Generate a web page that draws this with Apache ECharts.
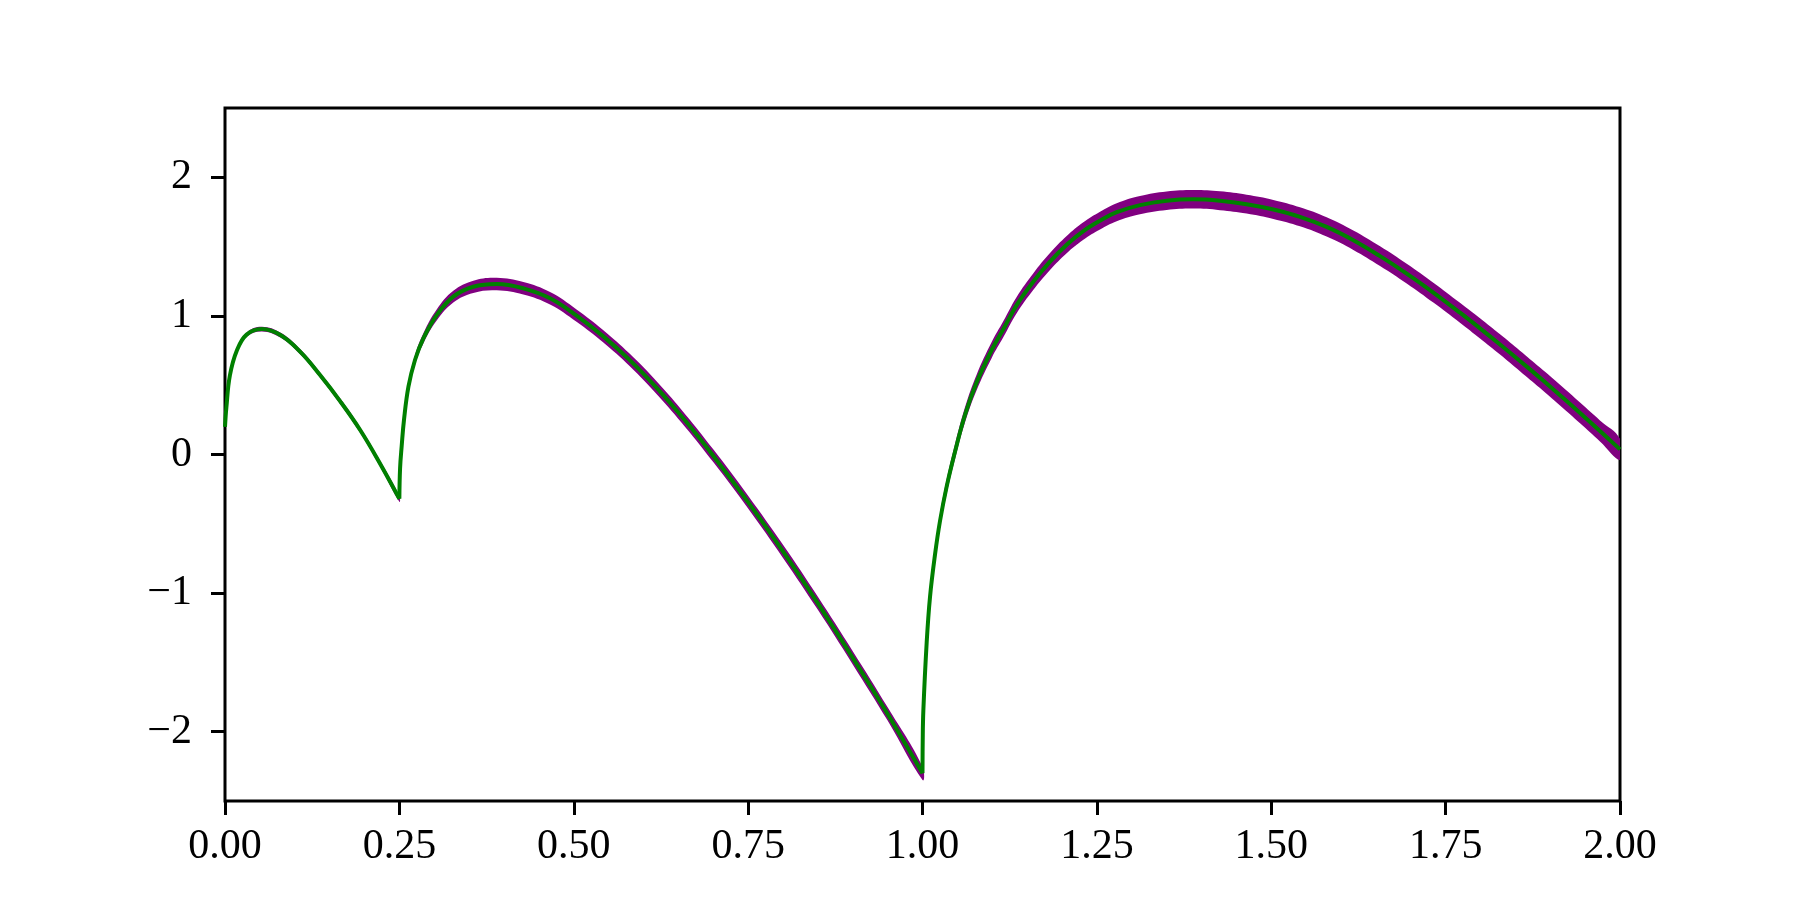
<!DOCTYPE html>
<html>
<head>
<meta charset="utf-8">
<title>curve with noisy samples</title>
<script src="https://cdn.jsdelivr.net/npm/echarts@6/dist/echarts.min.js"></script>
<style>
  html, body { margin: 0; padding: 0; background: #fff; }
  #main { width: 1800px; height: 900px; }
</style>
</head>
<body>
<div id="main"></div>
<script>
// ticks
var xTicks = [0, 0.25, 0.5, 0.75, 1.0, 1.25, 1.5, 1.75, 2.0];
var yTicks = [-2, -1, 0, 1, 2];

// piece 1 : 0 -> 0.25
var seg1X = [0, 0.002, 0.007, 0.017, 0.031, 0.053, 0.08, 0.108, 0.136, 0.165, 0.194, 0.222, 0.25];
var seg1Y = [0.2, 0.34, 0.57, 0.75, 0.865, 0.905, 0.86, 0.74, 0.575, 0.385, 0.175, -0.063, -0.32];
var seg1Spread = [0.014, 0.014, 0.014, 0.015, 0.016, 0.017, 0.018, 0.019, 0.019, 0.02, 0.02, 0.021, 0.021];

// piece 2 : 0.25 -> 1.0
var seg2X = [0.25, 0.251, 0.2533, 0.2566, 0.263, 0.2724, 0.2844, 0.3035, 0.3273, 0.356, 0.3895, 0.4277, 0.466,
             0.504, 0.542, 0.58, 0.62, 0.66, 0.70, 0.75, 0.80, 0.85, 0.90, 0.95, 1.0];
var seg2Y = [-0.32, -0.1, 0.06, 0.249, 0.489, 0.682, 0.838, 1.006, 1.139, 1.21, 1.23, 1.199, 1.127,
             1.002, 0.854, 0.683, 0.475, 0.243, -0.009, -0.344, -0.699, -1.074, -1.467, -1.872, -2.30];
var seg2Spread = [0.021, 0.023, 0.025, 0.028, 0.031, 0.034, 0.037, 0.04, 0.042, 0.044, 0.045, 0.045, 0.045,
                  0.045, 0.045, 0.045, 0.046, 0.046, 0.046, 0.046, 0.047, 0.047, 0.048, 0.048, 0.048];

// piece 3 : 1.0 -> 2.0
var seg3X = [1.0, 1.0003, 1.0012, 1.006, 1.0108, 1.018, 1.0251, 1.0347, 1.0466, 1.061, 1.0777, 1.0992, 1.116,
             1.135, 1.159, 1.1828, 1.2067, 1.2306, 1.2545, 1.2784, 1.3118, 1.35, 1.3882, 1.4265, 1.4647,
             1.503, 1.5412, 1.5794, 1.6177, 1.656, 1.6942, 1.7324, 1.7706, 1.7993, 1.828, 1.8566, 1.8853,
             1.914, 1.9427, 1.9713, 2.0];
var seg3Y = [-2.30, -2.07, -1.85, -1.356, -1.026, -0.72, -0.48, -0.23, 0.02, 0.287, 0.521, 0.754, 0.905,
             1.078, 1.248, 1.392, 1.514, 1.612, 1.687, 1.748, 1.799, 1.831, 1.841, 1.831, 1.806,
             1.768, 1.715, 1.642, 1.546, 1.431, 1.305, 1.168, 1.023, 0.91, 0.794, 0.675, 0.553,
             0.428, 0.30, 0.17, 0.037];
var seg3Spread = [0.048, 0.048, 0.048, 0.049, 0.05, 0.051, 0.052, 0.053, 0.054, 0.055, 0.056, 0.057, 0.058,
                  0.059, 0.06, 0.061, 0.062, 0.063, 0.064, 0.065, 0.066, 0.067, 0.067, 0.068, 0.068,
                  0.069, 0.069, 0.07, 0.07, 0.071, 0.071, 0.072, 0.072, 0.073, 0.073, 0.074, 0.074,
                  0.075, 0.075, 0.076, 0.076];

var segments = [
  { x: seg1X, y: seg1Y, s: seg1Spread },
  { x: seg2X, y: seg2Y, s: seg2Spread },
  { x: seg3X, y: seg3Y, s: seg3Spread }
];

var LABEL_FONT = 'Liberation Serif';
var SMOOTH = 0.4;
var series = [];

// purple cloud of samples, drawn as a band around each piece
series.push({
  type: 'custom',
  silent: true,
  z: 1,
  clip: true,
  data: segments.map(function (seg) { return [seg.x[0], seg.y[0]]; }),
  renderItem: function (params, api) {
    var seg = segments[params.dataIndex];
    var upper = [], lower = [];
    for (var k = 0; k < seg.x.length; k++) {
      upper.push(api.coord([seg.x[k], seg.y[k] + seg.s[k]]));
      lower.push(api.coord([seg.x[k], seg.y[k] - seg.s[k]]));
    }
    return {
      type: 'polygon',
      shape: { points: upper.concat(lower.reverse()), smooth: SMOOTH },
      style: { fill: '#800080' }
    };
  }
});

// green mean curve
segments.forEach(function (seg) {
  series.push({
    type: 'line',
    data: seg.x.map(function (x, k) { return [x, seg.y[k]]; }),
    showSymbol: false, smooth: SMOOTH,
    lineStyle: { color: '#008000', width: 4 }, z: 3
  });
});

var chart = echarts.init(document.getElementById('main'));
chart.setOption({
  animation: false,
  backgroundColor: '#fff',
  grid: {
    left: 225, top: 108, width: 1395, height: 693,
    show: true, borderColor: '#000', borderWidth: 3, backgroundColor: 'transparent'
  },
  xAxis: {
    type: 'value', min: 0, max: 2, interval: 0.25,
    axisLine: { show: false, onZero: false },
    axisTick: { show: true, inside: false, length: 14, lineStyle: { color: '#000', width: 3 } },
    axisLabel: {
      margin: 25, color: '#000', fontFamily: LABEL_FONT, fontSize: 42,
      customValues: xTicks,
      formatter: function (v) { return v.toFixed(2); }
    },
    splitLine: { show: false }
  },
  yAxis: {
    type: 'value', min: -2.5, max: 2.5,
    axisLine: { show: false, onZero: false },
    axisTick: { show: true, inside: false, length: 14, customValues: yTicks, lineStyle: { color: '#000', width: 3 } },
    axisLabel: {
      margin: 33, color: '#000', fontFamily: LABEL_FONT, fontSize: 42,
      customValues: yTicks,
      formatter: function (v) { return String(v).replace('-', '\u2212'); }
    },
    splitLine: { show: false }
  },
  series: series
});
</script>
</body>
</html>
